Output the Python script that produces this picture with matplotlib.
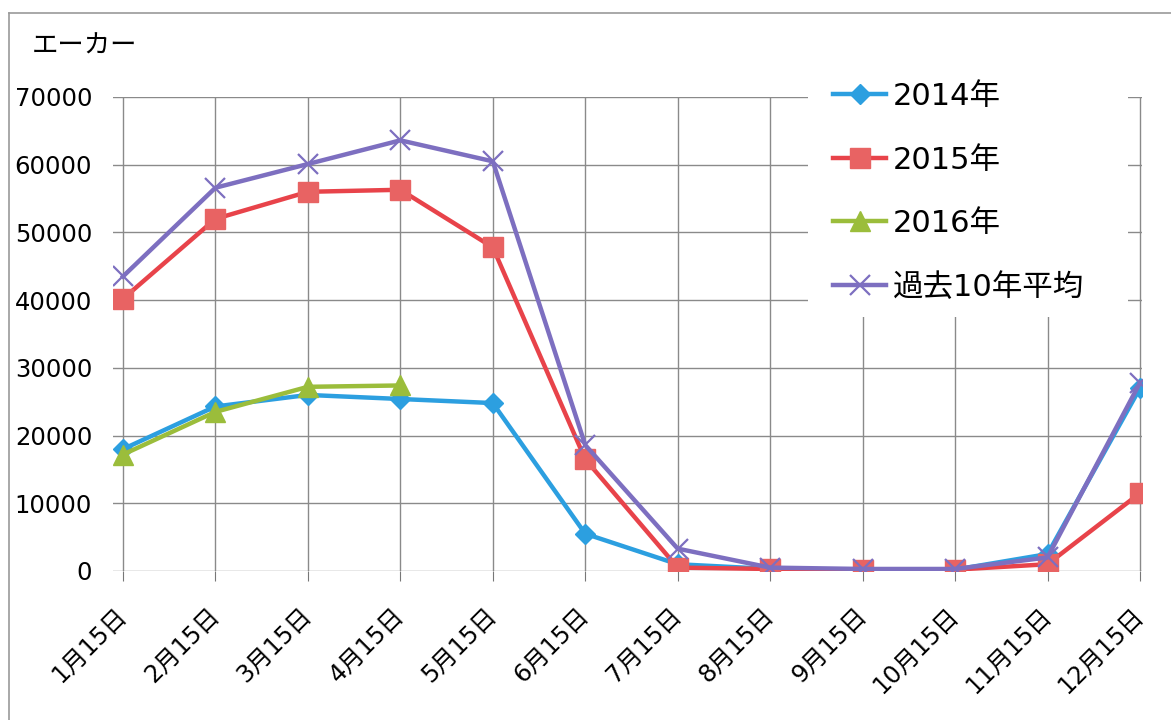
import matplotlib
matplotlib.use("Agg")
import matplotlib.pyplot as plt
from matplotlib.patches import Rectangle
from matplotlib.lines import Line2D

plt.rcParams["font.family"] = ["DejaVu Sans", "Noto Sans CJK JP"]

# 月別の作付面積（エーカー）、グラフから読み取った値
months = ["1月15日", "2月15日", "3月15日", "4月15日", "5月15日", "6月15日",
          "7月15日", "8月15日", "9月15日", "10月15日", "11月15日", "12月15日"]
y2014 = [18000, 24300, 26000, 25400, 24800, 5500, 1000, 300, 200, 200, 2500, 27000]
y2015 = [40200, 52000, 56000, 56300, 47800, 16500, 500, 300, 200, 200, 1000, 11500]
y2016 = [17200, 23500, 27200, 27400]
avg10 = [43500, 56600, 60100, 63600, 60500, 18600, 3300, 500, 300, 300, 2000, 27800]
yticks = [0, 10000, 20000, 30000, 40000, 50000, 60000, 70000]

W, H = 1171, 720
fig = plt.figure(figsize=(W / 100, H / 100), dpi=100)
ax = fig.add_axes([113 / W, 1 - 571 / H, (1142 - 113) / W, (571 - 97) / H])

x = list(range(len(months)))
ax.plot(x, y2014, color="#2c9fe0", marker="D", markersize=10, linewidth=3.2,
        label="2014年", zorder=3)
ax.plot(x, y2015, color="#e8434a", marker="s", markersize=14, linewidth=3.2,
        markerfacecolor="#e86363", markeredgecolor="#e86363", label="2015年", zorder=3)
ax.plot(x[:len(y2016)], y2016, color="#9bbd3b", marker="^", markersize=15, linewidth=3.2,
        label="2016年", zorder=3)
ax.plot(x, avg10, color="#7d6fc0", marker="x", markersize=15, markeredgewidth=1.6,
        linewidth=3.2, label="過去10年平均", zorder=3)

ax.set_xlim(-0.108, 11.022)
ax.set_ylim(0, 70000)
ax.set_yticks(yticks)
ax.set_yticklabels([str(v) for v in yticks], fontsize=17.5)
ax.set_xticks(x)
ax.set_xticklabels(months, fontsize=17.5, rotation=45, ha="right", va="center",
                   rotation_mode="anchor")
ax.tick_params(axis="y", length=0, pad=15)
ax.tick_params(axis="x", length=7, color="#777777", pad=22)
ax.grid(True, color="#8a8a8a", linewidth=1)
for s in ax.spines.values():
    s.set_visible(False)

# 凡例の下地（グリッド線を隠す）
ax.add_patch(Rectangle((808 / W, 1 - 317 / H), (1128 - 808) / W, (317 - 60) / H,
                       transform=fig.transFigure, facecolor="white",
                       edgecolor="none", zorder=2, clip_on=False))
leg = ax.legend(loc="upper left", bbox_to_anchor=(833 / W, 1 - 82 / H),
                bbox_transform=fig.transFigure, fontsize=22, frameon=False,
                handlelength=1.75, handletextpad=0.2, labelspacing=1.13,
                borderpad=0, borderaxespad=0)
leg.set_zorder(5)

fig.text(32 / W, 1 - 47 / H, "エーカー", fontsize=19, va="center", ha="left")

fig.add_artist(Line2D([9 / W, 9 / W], [0, 1 - 13 / H], color="#9a9a9a", linewidth=1.2))
fig.add_artist(Line2D([9 / W, 1], [1 - 13 / H, 1 - 13 / H], color="#9a9a9a", linewidth=1.2))

fig.savefig("out.png", dpi=100)
